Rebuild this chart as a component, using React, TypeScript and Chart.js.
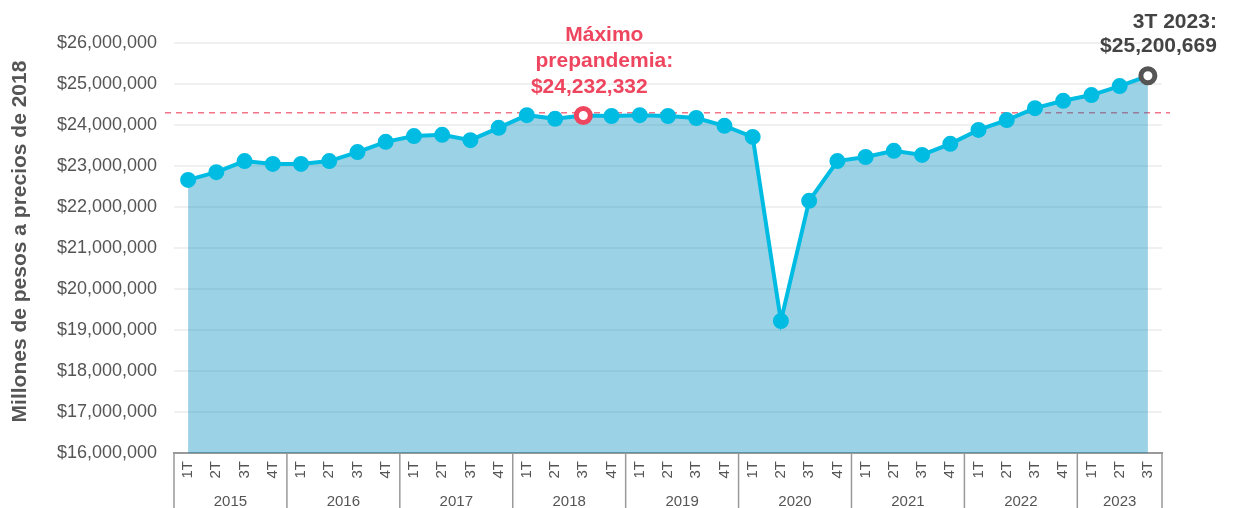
import React, { useEffect, useRef } from "react";
import { Chart, registerables } from "chart.js";

Chart.register(...registerables);

const YEARS = ["2015", "2016", "2017", "2018", "2019", "2020", "2021", "2022", "2023"];
const QUARTERS = ["1T", "2T", "3T", "4T"];
const LABELS: string[] = [];
YEARS.forEach((y) => {
  QUARTERS.forEach((q) => {
    if (!(y === "2023" && q === "4T")) LABELS.push(q);
  });
});

const PIB_VALUES = [
  22660000, 22850000, 23120000, 23050000,
  23050000, 23120000, 23340000, 23590000,
  23730000, 23760000, 23630000, 23930000,
  24240000, 24150000, 24232332, 24220000,
  24240000, 24220000, 24170000, 23980000,
  23710000, 19220000, 22150000, 23120000,
  23220000, 23370000, 23270000, 23540000,
  23880000, 24120000, 24410000, 24590000,
  24730000, 24950000, 25200669,
];

const PEAK_INDEX = 14;
const LAST_INDEX = 34;
const REF_LINE = 24300000;
const Y_MIN = 16000000;
const Y_MAX = 26000000;
const Y_STEP = 1000000;

const PEAK_LINES = ["Máximo", "prepandemia:", "$24,232,332"];
const LAST_LINES = ["3T 2023:", "$25,200,669"];
const Y_TITLE = "Millones de pesos a precios de 2018";

const FONT = "'Liberation Sans', Arial, Helvetica, sans-serif";
const LINE_COLOR = "#00BCE2";
const RED = "#EF4660";
const GRAY = "#444444";

const fmt = (v: number) => "$" + Math.round(v).toLocaleString("en-US");

const overlayPlugin = {
  id: "overlay",
  beforeDatasetsDraw(chart: any) {
    const { ctx, chartArea, scales } = chart;
    const y = scales.y.getPixelForValue(REF_LINE);
    ctx.save();
    ctx.strokeStyle = "rgba(240,70,95,0.75)";
    ctx.lineWidth = 1.5;
    ctx.setLineDash([6, 5]);
    ctx.beginPath();
    ctx.moveTo(chartArea.left - 9, y);
    ctx.lineTo(chartArea.right + 8, y);
    ctx.stroke();
    ctx.restore();
  },
  afterDraw(chart: any) {
    const { ctx, chartArea, scales } = chart;
    const xs = scales.x;
    const n = LABELS.length;
    const band = (chartArea.right - chartArea.left) / n;
    const top = chartArea.bottom;
    const bottom = chart.height;
    ctx.save();
    ctx.strokeStyle = "#999999";
    ctx.lineWidth = 1.5;
    const bounds: number[] = [];
    for (let i = 0; i < n; i += 4) bounds.push(xs.getPixelForValue(i) - band / 2);
    bounds.push(xs.getPixelForValue(n - 1) + band / 2);
    bounds.forEach((bx) => {
      ctx.beginPath();
      ctx.moveTo(bx, top);
      ctx.lineTo(bx, bottom);
      ctx.stroke();
    });
    ctx.fillStyle = "#555555";
    ctx.font = "15px " + FONT;
    ctx.textAlign = "center";
    ctx.textBaseline = "middle";
    for (let k = 0; k < YEARS.length; k++) {
      const cx = (bounds[k] + bounds[k + 1]) / 2;
      ctx.fillText(YEARS[k], cx, top + 49);
    }

    // y-axis title
    ctx.save();
    ctx.translate(12, 233.5);
    ctx.rotate(-Math.PI / 2);
    ctx.font = "bold 21px " + FONT;
    ctx.fillStyle = "#555555";
    ctx.textAlign = "center";
    ctx.textBaseline = "middle";
    ctx.fillText(Y_TITLE, 0, 0);
    ctx.restore();

    const meta = chart.getDatasetMeta(0);
    const p = meta.data[PEAK_INDEX];
    ctx.font = "bold 21px " + FONT;
    ctx.fillStyle = RED;
    ctx.textBaseline = "alphabetic";
    ctx.textAlign = "center";
    ctx.fillText(PEAK_LINES[0], p.x + 21, p.y - 74);
    ctx.fillText(PEAK_LINES[1], p.x + 21, p.y - 48);
    ctx.fillText(PEAK_LINES[2], p.x + 6, p.y - 22);

    const q = meta.data[LAST_INDEX];
    ctx.fillStyle = GRAY;
    ctx.textAlign = "right";
    ctx.fillText(LAST_LINES[0], q.x + 69, q.y - 48);
    ctx.fillText(LAST_LINES[1], q.x + 69, q.y - 24);
    ctx.restore();
  },
};

export default function App() {
  const ref = useRef<HTMLCanvasElement | null>(null);
  useEffect(() => {
    if (!ref.current) return;
    const bg = PIB_VALUES.map((_, i) => (i === PEAK_INDEX || i === LAST_INDEX ? "#ffffff" : LINE_COLOR));
    const bc = PIB_VALUES.map((_, i) => (i === PEAK_INDEX ? RED : i === LAST_INDEX ? "#555555" : LINE_COLOR));
    const bw = PIB_VALUES.map((_, i) => (i === PEAK_INDEX || i === LAST_INDEX ? 5 : 2));
    const chart = new Chart(ref.current, {
      type: "line",
      data: {
        labels: LABELS,
        datasets: [
          {
            data: PIB_VALUES,
            borderColor: LINE_COLOR,
            borderWidth: 4,
            backgroundColor: "rgba(0,140,190,0.39)",
            fill: "start",
            tension: 0,
            pointRadius: 7,
            pointBackgroundColor: bg,
            pointBorderColor: bc,
            pointBorderWidth: bw,
          },
        ],
      },
      plugins: [overlayPlugin],
      options: {
        responsive: true,
        maintainAspectRatio: false,
        animation: false,
        layout: { padding: { top: 35, right: 64, bottom: 0, left: 0 } },
        plugins: { legend: { display: false }, tooltip: { enabled: false } },
        scales: {
          x: {
            type: "category",
            offset: true,
            grid: { display: false, drawTicks: false },
            border: { display: true, color: "#999999", width: 2 },
            ticks: {
              color: "#555555",
              font: { size: 15, family: FONT },
              minRotation: 90,
              maxRotation: 90,
              padding: 8,
              autoSkip: false,
            },
            afterFit(scale: any) {
              scale.height = 55;
            },
          },
          y: {
            min: Y_MIN,
            max: Y_MAX,
            grid: { color: "#f0f0f0", lineWidth: 2, drawTicks: false },
            border: { display: false },
            ticks: {
              stepSize: Y_STEP,
              color: "#555555",
              font: { size: 18, family: FONT },
              padding: 17,
              callback: (v: any) => fmt(Number(v)),
            },
            title: { display: false },
            afterFit(scale: any) {
              scale.width = 166;
            },
          },
        },
      },
    });
    return () => chart.destroy();
  }, []);
  return (
    <div style={{ position: "relative", height: "500px" }}>
      <canvas ref={ref} />
    </div>
  );
}
